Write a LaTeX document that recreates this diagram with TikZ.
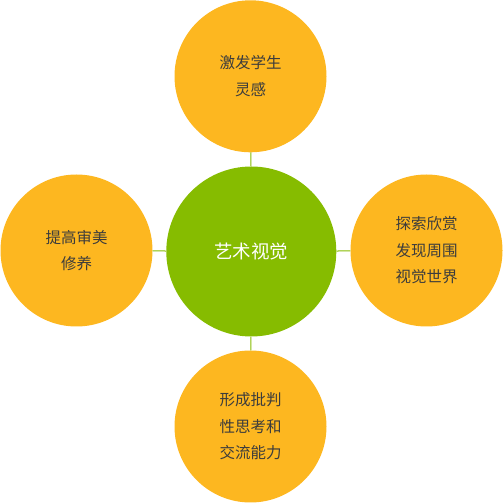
\documentclass[tikz,border=0pt]{standalone}
\usepackage{fontspec}
\newfontfamily\cjk{Noto Sans CJK SC}
\definecolor{orangefill}{RGB}{253,183,32}
\definecolor{greenfill}{RGB}{134,188,0}
\definecolor{txtgray}{RGB}{60,60,60}
\begin{document}
\begin{tikzpicture}[x=1pt,y=1pt,
  leaf/.style={circle,fill=orangefill,inner sep=0pt,minimum size=152pt,
    text=txtgray,align=center,font=\cjk\fontsize{15.5}{26.5}\selectfont},
  hub/.style={circle,fill=greenfill,inner sep=0pt,minimum size=170pt,
    text=white,font=\cjk\fontsize{18.5}{22}\selectfont},
  link/.style={draw=greenfill,line width=1pt}]
\useasboundingbox (0,0) rectangle (503,503);
\node[hub] (c) at (251.3,251.5) {艺术视觉};
\node[leaf] (t) at (250.5,426.7) {激发学生\\灵感};
\node[leaf] (b) at (250.5,76.5) {形成批判\\性思考和\\交流能力};
\node[leaf] (l) at (76.5,252.5) {提高审美\\修养};
\node[leaf] (r) at (426.5,252.5) {探索欣赏\\发现周围\\视觉世界};
\draw[link] (c) -- (t);
\draw[link] (c) -- (b);
\draw[link] (c) -- (l);
\draw[link] (c) -- (r);
\end{tikzpicture}
\end{document}
